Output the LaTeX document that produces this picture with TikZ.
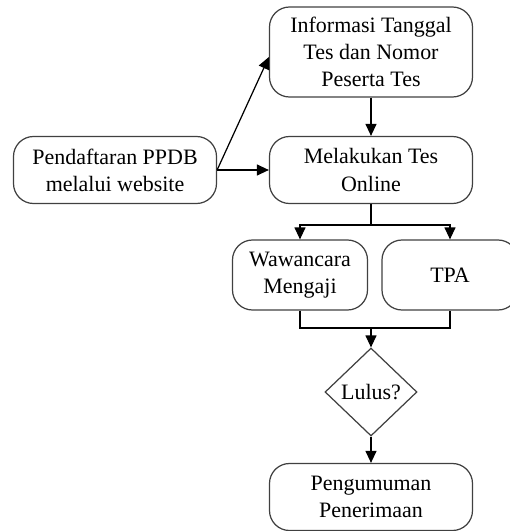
\documentclass[tikz,border=0pt]{standalone}
\usepackage{fontspec}
\setmainfont{Liberation Serif}
\usetikzlibrary{arrows.meta,shapes.geometric}
\tikzset{
  box/.style={draw=black!75, line width=0.7pt, rounded corners=0.4cm,
    minimum width=4.06cm, minimum height=1.34cm, align=center,
    font=\fontsize{12.5}{15.5}\selectfont},
  arr/.style={-{Triangle[width=0.22cm,length=0.24cm]}, line width=0.7pt}
}
\begin{document}
\begin{tikzpicture}
   \useasboundingbox (0,0) rectangle (10.18,-10.62);
   \node[box, minimum height=1.8cm] (info)   at (7.42,-1.04) {Informasi Tanggal\\Tes dan Nomor\\Peserta Tes};
   \node[box] (daftar) at (2.30,-3.40) {Pendaftaran PPDB\\melalui website};
   \node[box] (tes)    at (7.42,-3.40) {Melakukan Tes\\Online};
   \node[box, minimum width=2.7cm, minimum height=1.4cm]  (wawan) at (6.00,-5.50) {Wawancara\\Mengaji};
   \node[box, minimum width=2.72cm, minimum height=1.4cm] (tpa)   at (9.00,-5.50) {TPA};
   \node[draw=black!75, line width=0.7pt, diamond, minimum width=1.84cm, minimum height=1.76cm,
         inner sep=0pt, font=\fontsize{12.5}{15.5}\selectfont] (lulus) at (7.42,-7.84) {Lulus?};
   \node[box] (umum)   at (7.42,-9.94) {Pengumuman\\Penerimaan};
   \coordinate (s1) at (7.42,-4.50);
   \coordinate (m1) at (7.42,-6.56);
   \draw[arr] (daftar.east) -- ([yshift=-0.1cm]info.west);
   \draw[arr] (daftar.east) -- (tes.west);
   \draw[arr] (info.south) -- (tes.north);
   \draw[line width=0.7pt] (tes.south) -- (s1);
   \draw[arr] (s1) -| (wawan.north);
   \draw[arr] (s1) -| (tpa.north);
   \draw[line width=0.7pt] (wawan.south) |- (m1) -| (tpa.south);
   \draw[arr] (m1) -- (lulus.north);
   \draw[arr] (lulus.south) -- (umum.north);
\end{tikzpicture}
\end{document}
